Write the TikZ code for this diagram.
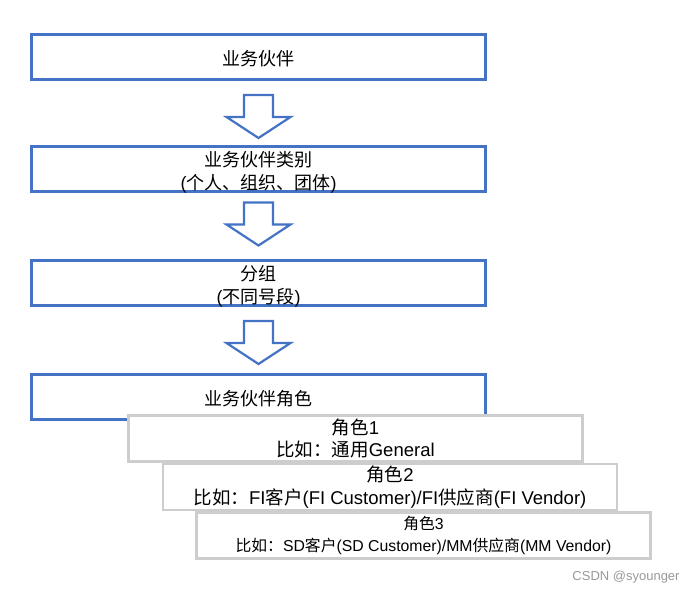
\documentclass[tikz,border=0pt]{standalone}
\usepackage{fontspec}
\setmainfont{Liberation Sans}
\newfontfamily\cjk{Noto Sans CJK SC}
\newcommand\zh[1]{{\cjk #1}}
\newcommand\lift{\rule{0pt}{17.5pt}}
\usetikzlibrary{positioning,calc}

\definecolor{boxblue}{HTML}{4472C4}
\definecolor{rolegray}{HTML}{CDCDCD}

\tikzset{node distance=66pt}
\tikzset{
  stage/.style={draw=boxblue, line width=2.6pt, minimum width=454.4pt,
    minimum height=45.4pt, inner sep=0pt, align=center, text depth=0pt,
    font=\fontsize{18}{22.5}\selectfont},
  role/.style={draw=rolegray, fill=white, line width=2.6pt, minimum width=454pt,
    minimum height=46pt, inner sep=0pt, align=center,
    font=\fontsize{18.5}{22.5}\selectfont},
  blockarrow/.style={draw=boxblue, line width=2.2pt, fill=white, line join=miter}
}

\begin{document}
\begin{tikzpicture}[x=1pt,y=-1pt]
      \useasboundingbox (0,0) rectangle (696,594);
      \node[stage] (bp) at (258.5,57) {\lift\zh{业务伙伴}};
      % row 2
      \node[stage,below=64pt of bp] (cat) {\lift\zh{业务伙伴类别}\\(\zh{个人、组织、团体})};
      % row 3
      \node[stage,below=of cat] (grp) {\lift\zh{分组}\\(\zh{不同号段})};
      % row 4
      \node[stage,below=of grp] (rl) {\lift\zh{业务伙伴角色}};
      % roles
      \node[role] (r1) at (355.5,438.5) {\zh{角色}1\\\zh{比如：通用}General};
      \node[role,below=0pt of r1,xshift=34.5pt] (r2)
        {\zh{角色}2\\\zh{比如：}FI\zh{客户}(FI Customer)/FI\zh{供应商}(FI Vendor)};
      \node[role,below=0pt of r2,xshift=33.5pt,font=\fontsize{15.8}{22}\selectfont] (r3)
        {\zh{角色}3\\\zh{比如：}SD\zh{客户}(SD Customer)/MM\zh{供应商}(MM Vendor)};

      % links
      \coordinate (a1) at ($(bp.south)!0.5!(cat.north)+(0,3.5)$);
      \coordinate (a2) at ($(cat.south)!0.5!(grp.north)+(0,-2)$);
      \coordinate (a3) at ($(grp.south)!0.5!(rl.north)+(0,2.5)$);
      \foreach \a in {a1,a2,a3}
        \draw[blockarrow] (\a) ++(-14.5,-21.5) -- ++(29,0) -- ++(0,22) -- ++(17.5,0)
          -- ++(-32,21) -- ++(-32,-21) -- ++(17.5,0) -- cycle;

      \node[text=black!40,font=\fontsize{13}{14}\selectfont] (mark) at (626,577) {CSDN @syounger};
    \end{tikzpicture}
\end{document}
